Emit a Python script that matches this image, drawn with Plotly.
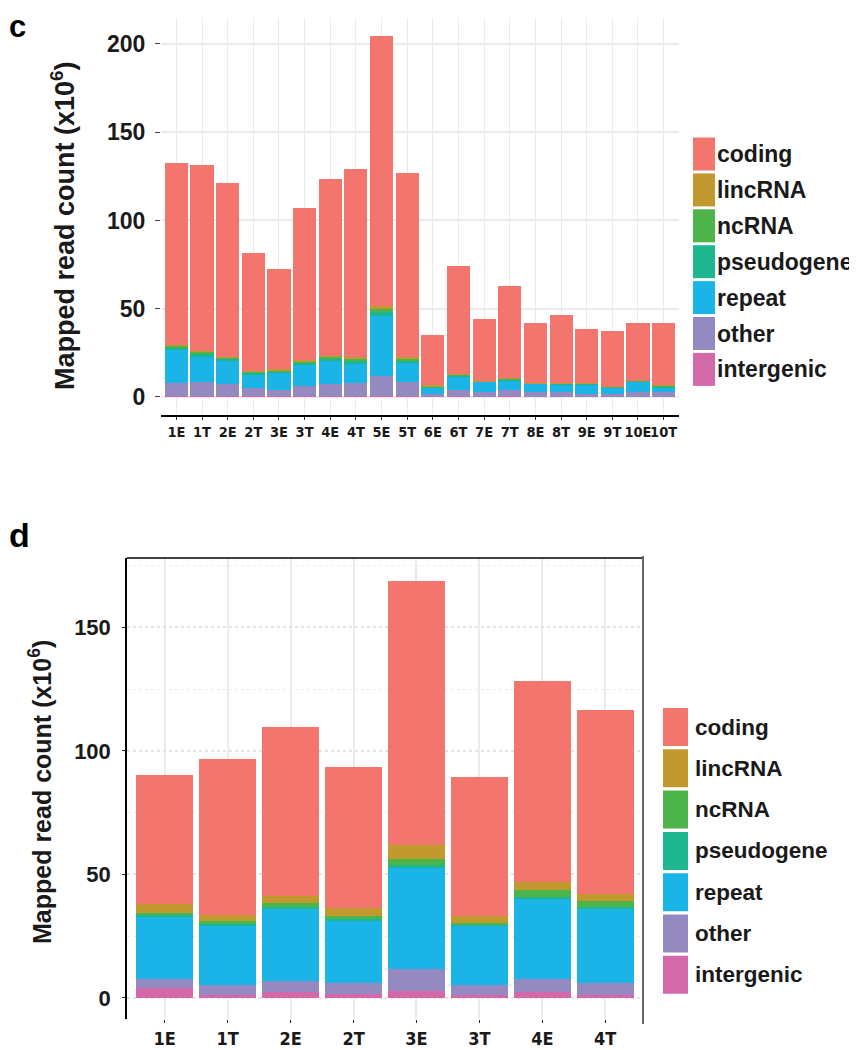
import plotly.graph_objects as go

W, H = 857, 1050

# ---------------- data ----------------
series = ["coding", "lincRNA", "ncRNA", "pseudogene", "repeat", "other", "intergenic"]
colors = ["#F3766E", "#C1992E", "#4CB448", "#1DB68E", "#1AB5E6", "#9589C1", "#D469A9"]

c_samples = ["1E", "1T", "2E", "2T", "3E", "3T", "4E", "4T", "5E", "5T",
             "6E", "6T", "7E", "7T", "8E", "8T", "9E", "9T", "10E", "10T"]
c_intergenic = [0.4, 0.4, 0.4, 0.3, 0.3, 0.4, 0.4, 0.4, 0.8, 0.4, 0.2, 0.3, 0.2, 0.3, 0.2, 0.2, 0.2, 0.2, 0.2, 0.2]
c_other = [7.7, 8.1, 7.0, 4.8, 3.7, 5.8, 7.0, 7.7, 11.3, 8.1, 1.7, 3.9, 2.6, 3.9, 2.6, 2.6, 1.7, 1.7, 2.6, 2.6]
c_repeat = [18.3, 14.2, 13.4, 7.2, 9.8, 11.7, 13.0, 10.8, 33.8, 10.8, 3.4, 7.3, 5.7, 5.2, 4.8, 4.2, 5.1, 3.2, 5.7, 2.5]
c_pseudogene = [1.7, 1.9, 1.0, 1.3, 0.9, 1.6, 1.6, 1.9, 2.6, 1.6, 0.6, 0.8, 0.3, 0.7, 0.2, 0.4, 0.4, 0.4, 0.4, 0.8]
c_ncRNA = [0.8, 0.9, 0.5, 0.6, 0.4, 0.7, 0.7, 0.9, 1.1, 0.8, 0.3, 0.4, 0.1, 0.3, 0.1, 0.2, 0.2, 0.2, 0.2, 0.3]
c_lincRNA = [0.7, 0.5, 0.4, 0.5, 0.6, 0.6, 0.5, 0.8, 2.0, 0.8, 0.4, 0.5, 0.2, 0.4, 0.2, 0.2, 0.2, 0.2, 0.2, 0.2]
c_coding = [103.0, 105.4, 98.3, 66.7, 56.6, 86.2, 100.1, 106.7, 153.1, 104.2,
            28.5, 61.2, 35.1, 51.9, 34.0, 38.8, 30.7, 31.3, 32.8, 35.5]

d_samples = ["1E", "1T", "2E", "2T", "3E", "3T", "4E", "4T"]
d_intergenic = [4.2, 1.1, 2.4, 1.6, 3.0, 1.1, 2.4, 1.1]
d_other = [3.6, 4.3, 4.5, 4.4, 8.6, 4.3, 5.4, 5.1]
d_repeat = [25.3, 23.9, 29.1, 25.3, 40.8, 23.9, 32.5, 30.1]
d_pseudogene = [0.5, 0.7, 0.7, 0.7, 1.4, 0.3, 0.4, 0.4]
d_ncRNA = [0.8, 1.0, 1.7, 1.1, 2.4, 0.6, 3.1, 2.7]
d_lincRNA = [3.6, 2.7, 3.0, 3.3, 5.8, 3.1, 3.0, 2.7]
d_coding = [52.3, 62.8, 68.3, 57.1, 106.8, 56.2, 81.3, 74.6]

y_title = "Mapped read count (x10<sup>6</sup>)"

c_data = {"coding": c_coding, "lincRNA": c_lincRNA, "ncRNA": c_ncRNA, "pseudogene": c_pseudogene,
          "repeat": c_repeat, "other": c_other, "intergenic": c_intergenic}
d_data = {"coding": d_coding, "lincRNA": d_lincRNA, "ncRNA": d_ncRNA, "pseudogene": d_pseudogene,
          "repeat": d_repeat, "other": d_other, "intergenic": d_intergenic}

FONT = "Liberation Sans, Arial, sans-serif"
NARROW = "DejaVu Sans Condensed, Liberation Sans Narrow, Arial Narrow, sans-serif"
TXT = "#1a1a1a"


def px_x(p):
    return p / W


def px_y(p):
    return 1 - p / H


fig = go.Figure()

# stacked bars, bottom (intergenic) to top (coding)
for name, col in reversed(list(zip(series, colors))):
    fig.add_trace(go.Bar(x=c_samples, y=c_data[name], name=name, marker=dict(color=col, line=dict(width=0)),
                         width=0.9, showlegend=False, xaxis="x", yaxis="y"))
    fig.add_trace(go.Bar(x=d_samples, y=d_data[name], name=name, marker=dict(color=col, line=dict(width=0)),
                         width=0.9, showlegend=False, xaxis="x2", yaxis="y2"))

grid = "#EBEBEB"

fig.update_layout(
    width=W, height=H, margin=dict(l=0, r=0, t=0, b=0),
    paper_bgcolor="white", plot_bgcolor="white", barmode="stack",
    font=dict(family=FONT, color=TXT),
    xaxis=dict(domain=[px_x(153), px_x(671)], range=[-0.6, 19.6], type="category",
               showgrid=True, gridcolor=grid, gridwidth=1,
               showline=True, linecolor="black", linewidth=2,
               ticks="outside", ticklen=3, tickcolor="#333",
               tickfont=dict(family=NARROW, size=14.5, color=TXT, weight="bold"), tickangle=0),
    yaxis=dict(domain=[px_y(407), px_y(10)], range=[-10.2, 214.7],
               tickvals=[0, 50, 100, 150, 200], showgrid=True, gridcolor=grid, gridwidth=1.5,
               zeroline=False, showline=False, ticks="outside", ticklen=5, tickcolor="#444",
               ticklabelstandoff=5,
               tickfont=dict(family=FONT, size=23, color=TXT, weight="bold")),
    xaxis2=dict(domain=[px_x(119), px_x(635)], range=[-0.6, 7.6], type="category",
                showgrid=True, gridcolor=grid, gridwidth=1.5,
                showline=False, ticks="outside", ticklen=3, tickcolor="#222",
                tickfont=dict(family=NARROW, size=18, color=TXT, weight="bold"), tickangle=0, anchor="y2"),
    yaxis2=dict(domain=[px_y(1011), px_y(550)], range=[-8.5, 178],
                tickvals=[0, 50, 100, 150], showgrid=True, gridcolor="#E3E3E3", gridwidth=1.5, griddash="dot",
                minor=dict(tick0=25, dtick=50, showgrid=True, gridcolor="#EDEDED", gridwidth=1.2, griddash="dot"),
                zeroline=False, showline=True, linecolor="black", linewidth=1.5,
                ticks="outside", ticklen=3, tickcolor="#222", ticklabelstandoff=7,
                tickfont=dict(family=FONT, size=22, color=TXT, weight="bold"), anchor="x2"),
)

shapes = []
annotations = []

# frame of panel d (top and right)
shapes.append(dict(type="line", xref="x2 domain", yref="y2 domain", x0=0, x1=1, y0=1, y1=1,
                   line=dict(color="black", width=1.5)))
shapes.append(dict(type="line", xref="x2 domain", yref="paper", x0=1, x1=1, y0=px_y(1016), y1=px_y(548),
                   line=dict(color="#666", width=2)))

# panel letters
annotations.append(dict(text="<b>c</b>", x=px_x(0), y=px_y(0), xref="paper", yref="paper",
                        xanchor="left", yanchor="top", showarrow=False, borderpad=0,
                        font=dict(size=31, color="black")))
annotations.append(dict(text="<b>d</b>", x=px_x(0), y=px_y(507), xref="paper", yref="paper",
                        xanchor="left", yanchor="top", showarrow=False, borderpad=0,
                        font=dict(size=34, color="black")))

# y titles
annotations.append(dict(text="<b>" + y_title + "</b>", x=px_x(55), y=px_y(218), xref="paper", yref="paper",
                        xanchor="center", yanchor="middle", textangle=-90, showarrow=False,
                        font=dict(size=27, color=TXT)))
annotations.append(dict(text="<b>" + y_title + "</b>", x=px_x(32), y=px_y(784), xref="paper", yref="paper",
                        xanchor="center", yanchor="middle", textangle=-90, showarrow=False,
                        font=dict(size=25, color=TXT)))


# custom legends (large swatches)
def add_legend(x0, x1, ytop, pitch, sh, tx, fsize):
    for i, (name, col) in enumerate(zip(series, colors)):
        t = ytop + i * pitch
        shapes.append(dict(type="rect", xref="paper", yref="paper",
                           x0=px_x(x0), x1=px_x(x1), y0=px_y(t + sh), y1=px_y(t),
                           fillcolor=col, line=dict(width=0)))
        annotations.append(dict(text="<b>" + name + "</b>", x=px_x(tx), y=px_y(t + sh / 2),
                                xref="paper", yref="paper",
                                xanchor="left", yanchor="middle", showarrow=False,
                                font=dict(size=fsize, color=TXT, family=FONT)))


add_legend(685, 707, 129.5, 35.9, 33, 707, 23)
add_legend(655, 680, 700, 41.3, 38, 685, 22.5)

fig.update_layout(shapes=shapes, annotations=annotations)

fig.write_html("out.html")
